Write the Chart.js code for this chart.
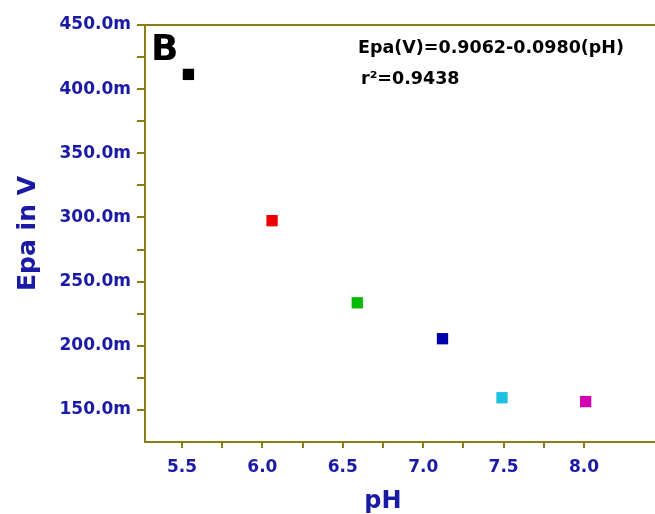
<!DOCTYPE html>
<html>
<head>
<meta charset="utf-8">
<script src="https://cdn.jsdelivr.net/npm/chart.js@4"></script>
<style>
  html, body { margin: 0; padding: 0; background: #fff; }
  #wrap { width: 655px; height: 514px; }
</style>
</head>
<body>
<div id="wrap"><canvas id="epaChart" width="655" height="514"></canvas></div>
<script>
// --- Data ---
const phValues = [5.54, 6.06, 6.59, 7.12, 7.49, 8.01];
const epaValues = [411.5, 297.5, 233.5, 205.5, 159.5, 156.5]; // in mV
const pointColors = ['#000000', '#ee0000', '#00bb00', '#0000aa', '#1cc0e0', '#d000b0'];
const xTickValues = [5.5, 5.75, 6.0, 6.25, 6.5, 6.75, 7.0, 7.25, 7.5, 7.75, 8.0];
const yTickValues = [150, 175, 200, 225, 250, 275, 300, 325, 350, 375, 400, 425, 450];
const equationText = 'Epa(V)=0.9062-0.0980(pH)';
const r2Text = 'r²=0.9438';
const panelLabel = 'B';

const axisColor = '#8b7d16';
const labelBlue = '#1a1aa6';
const fontFamily = '"DejaVu Sans", sans-serif';

// draws the panel letter, the fit equation and the top frame line
const annotations = {
  id: 'annotations',
  afterDraw(chart) {
    const { ctx, chartArea } = chart;
    ctx.save();
    ctx.strokeStyle = axisColor;
    ctx.lineWidth = 2;
    ctx.beginPath();
    ctx.moveTo(chartArea.left - 1, chartArea.top);
    ctx.lineTo(chart.width, chartArea.top);
    ctx.moveTo(chartArea.right, chartArea.bottom);
    ctx.lineTo(chart.width, chartArea.bottom);
    ctx.stroke();

    ctx.fillStyle = '#000';
    ctx.textBaseline = 'alphabetic';
    ctx.font = 'bold 36px ' + fontFamily;
    ctx.fillText(panelLabel, 151, 60);
    ctx.font = 'bold 17.5px ' + fontFamily;
    ctx.fillText(equationText, 358, 53);
    ctx.fillText(r2Text, 361, 84);
    ctx.restore();
  }
};

new Chart(document.getElementById('epaChart'), {
  type: 'scatter',
  data: {
    datasets: [{
      data: phValues.map((x, i) => ({ x, y: epaValues[i] })),
      pointStyle: 'rect',
      pointRadius: 8,
      pointHoverRadius: 8,
      pointBorderWidth: 0,
      pointBackgroundColor: pointColors,
      pointBorderColor: pointColors,
    }],
  },
  options: {
    responsive: false,
    animation: false,
    events: [],
    layout: { padding: { top: 25, right: 34, left: 0, bottom: 0 } },
    plugins: { legend: { display: false }, tooltip: { enabled: false } },
    scales: {
      x: {
        type: 'linear',
        min: 5.27,
        max: 8.23,
        afterFit: (scale) => { scale.height = 72; },
        afterBuildTicks: (scale) => { scale.ticks = xTickValues.map(v => ({ value: v })); },
        grid: { drawOnChartArea: false, color: axisColor, tickColor: axisColor, tickLength: 6, lineWidth: 2 },
        border: { color: axisColor, width: 2 },
        ticks: {
          color: labelBlue,
          font: { family: fontFamily, size: 17, weight: 'bold' },
          padding: 9,
          maxRotation: 0,
          autoSkip: false,
          callback: (v) => (Math.abs(v * 2 - Math.round(v * 2)) < 1e-6 ? v.toFixed(1) : ''),
        },
        title: {
          display: true,
          text: 'pH',
          color: labelBlue,
          font: { family: fontFamily, size: 24, weight: 'bold', lineHeight: 1 },
          padding: 0,
        },
      },
      y: {
        min: 125,
        max: 450,
        afterFit: (scale) => { scale.width = 145; },
        afterBuildTicks: (scale) => { scale.ticks = yTickValues.map(v => ({ value: v })); },
        grid: { drawOnChartArea: false, color: axisColor, tickColor: axisColor, tickLength: 8, lineWidth: 2 },
        border: { color: axisColor, width: 2 },
        ticks: {
          color: labelBlue,
          font: { family: fontFamily, size: 17, weight: 'bold' },
          padding: 6,
          autoSkip: false,
          callback: (v) => (v % 50 === 0 ? v.toFixed(1) + 'm' : ''),
        },
        title: {
          display: true,
          text: 'Epa in V',
          color: labelBlue,
          font: { family: fontFamily, size: 25, weight: 'bold' },
          padding: { top: 13, bottom: 0 },
        },
      },
    },
  },
  plugins: [annotations],
});
</script>
</body>
</html>
